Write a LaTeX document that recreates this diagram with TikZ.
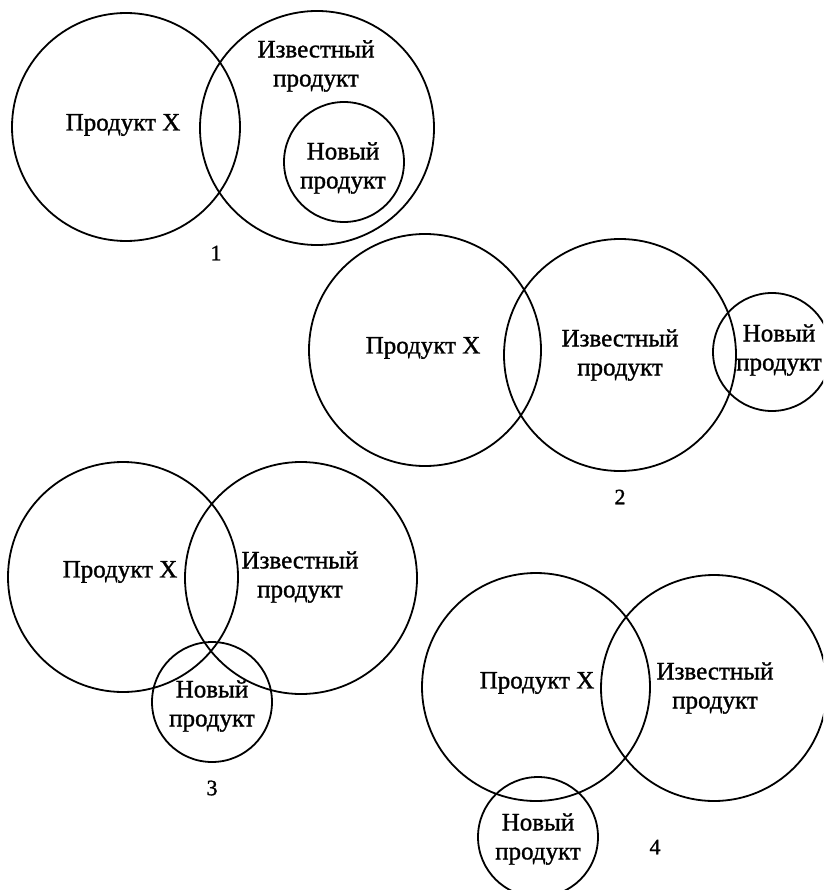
\documentclass[tikz,border=0pt]{standalone}
\usepackage{fontspec}
\setmainfont{Liberation Serif}
\newfontfamily\lblfont[FakeBold=1.2]{Liberation Serif}
\begin{document}
\begin{tikzpicture}[x=1pt,y=-1pt,
  ring/.style={draw=black,line width=1.8pt,circle,inner sep=0pt,minimum size=#1},
  lbl/.style={font=\lblfont\fontsize{25}{29}\selectfont,align=center,inner sep=0pt,text=black},
  num/.style={font=\lblfont\fontsize{22}{25}\selectfont,inner sep=0pt}]
\useasboundingbox (0,0) rectangle (823,890);
\clip (0,0) rectangle (823,890);
% Diagram 1
\node[ring=228pt] (a1) at (126,127) {};
\node[ring=234pt] (b1) at (317,128) {};
\node[ring=120pt] (c1) at (344,162) {};
\node[lbl] (ta1) at (123,125) {Продукт X};
\node[lbl] (tb1) at (316,66) {Известный\\продукт};
\node[lbl] (tc1) at (343,168) {Новый\\продукт};
\node[num] (n1) at (216,253) {1};
% Diagram 2
\node[ring=232pt] (a2) at (425,350) {};
\node[ring=232pt] (b2) at (620,355) {};
\node[ring=118pt] (c2) at (772,352) {};
\node[lbl] (ta2) at (423,348) {Продукт X};
\node[lbl] (tb2) at (620,355) {Известный\\продукт};
\node[lbl] (tc2) at (779,350) {Новый\\продукт};
\node[num] (n2) at (620,497) {2};
% Diagram 3
\node[ring=230pt] (a3) at (123,577) {};
\node[ring=232pt] (b3) at (301,578) {};
\node[ring=120pt] (c3) at (212,702) {};
\node[lbl] (ta3) at (120,572) {Продукт X};
\node[lbl] (tb3) at (300,577) {Известный\\продукт};
\node[lbl] (tc3) at (212,706) {Новый\\продукт};
\node[num] (n3) at (212,788) {3};
% Diagram 4
\node[ring=228pt] (a4) at (536,687) {};
\node[ring=226pt] (b4) at (714,688) {};
\node[ring=120pt] (c4) at (538,837) {};
\node[lbl] (ta4) at (537,683) {Продукт X};
\node[lbl] (tb4) at (715,688) {Известный\\продукт};
\node[lbl] (tc4) at (538,839) {Новый\\продукт};
\node[num] (n4) at (655,847) {4};
\end{tikzpicture}
\end{document}
